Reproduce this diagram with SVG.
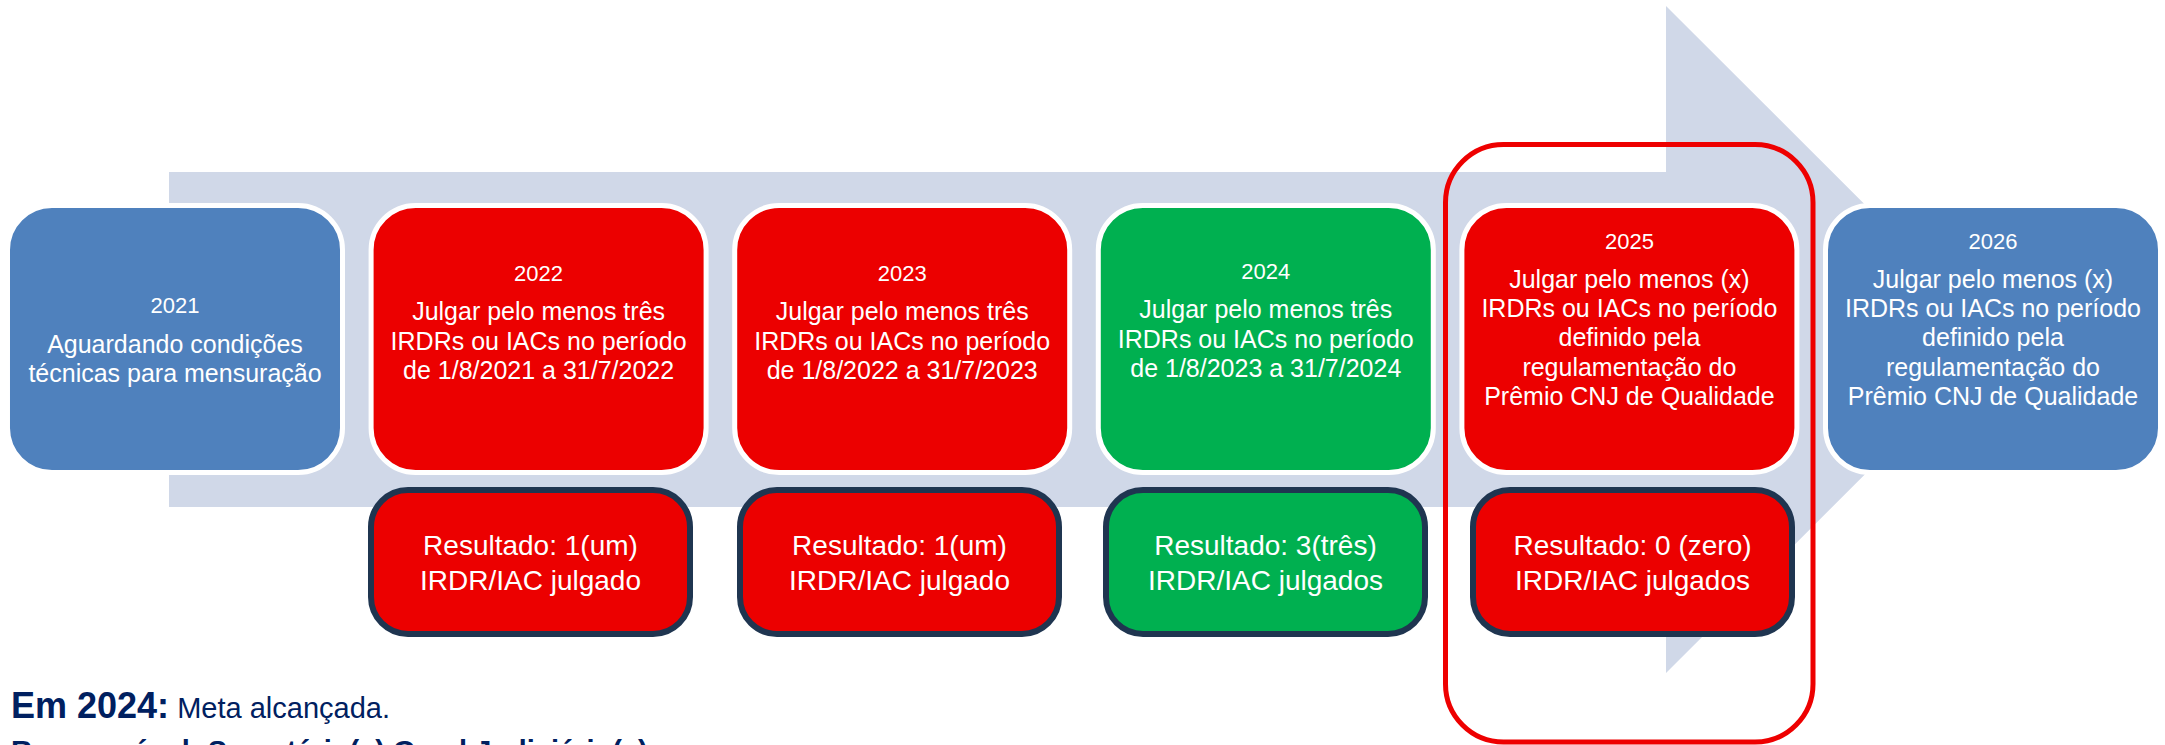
<svg xmlns="http://www.w3.org/2000/svg" width="2165" height="745" viewBox="0 0 2165 745">
<defs>
<style>
.box{stroke:#FFFFFF;stroke-width:5}
.blue{fill:#4F81BD}
.red{fill:#EC0000}
.green{fill:#00B050}
.res{stroke:#1F3550;stroke-width:6}
.yr{font-family:"Liberation Sans",Arial,sans-serif;font-size:22px;fill:#FFFFFF;text-anchor:middle}
.tx{font-family:"Liberation Sans",Arial,sans-serif;font-size:25px;fill:#FFFFFF;text-anchor:middle}
.rt{font-family:"Liberation Sans",Arial,sans-serif;font-size:28px;fill:#FFFFFF;text-anchor:middle}
.lg{font-family:"Liberation Sans",Arial,sans-serif;fill:#002060}
</style>
</defs>
<rect width="2165" height="745" fill="#FFFFFF"/>
<g id="connectors">
<path id="arrow" d="M169,172 H1666 V6 L2000,339.5 L1666,673 V507 H169 Z" fill="#D0D8E8"/>
</g>
<g id="n2021">
<rect class="box blue" x="7.5" y="205.5" width="335" height="267" rx="44.5"/>
<text class="yr" x="175" y="313">2021</text>
<text class="tx" x="175" y="353">Aguardando condições</text>
<text class="tx" x="175" y="382">técnicas para mensuração</text>
</g>
<g id="n2022">
<rect class="box red" x="371.1" y="205.5" width="335" height="267" rx="44.5"/>
<text class="yr" x="538.6" y="281">2022</text>
<text class="tx" x="538.6" y="320">Julgar pelo menos três</text>
<text class="tx" x="538.6" y="350">IRDRs ou IACs no período</text>
<text class="tx" x="538.6" y="379">de 1/8/2021 a 31/7/2022</text>
</g>
<g id="n2023">
<rect class="box red" x="734.7" y="205.5" width="335" height="267" rx="44.5"/>
<text class="yr" x="902.2" y="281">2023</text>
<text class="tx" x="902.2" y="320">Julgar pelo menos três</text>
<text class="tx" x="902.2" y="350">IRDRs ou IACs no período</text>
<text class="tx" x="902.2" y="379">de 1/8/2022 a 31/7/2023</text>
</g>
<g id="n2024">
<rect class="box green" x="1098.3" y="205.5" width="335" height="267" rx="44.5"/>
<text class="yr" x="1265.8" y="279">2024</text>
<text class="tx" x="1265.8" y="318">Julgar pelo menos três</text>
<text class="tx" x="1265.8" y="348">IRDRs ou IACs no período</text>
<text class="tx" x="1265.8" y="377">de 1/8/2023 a 31/7/2024</text>
</g>
<g id="n2025">
<rect class="box red" x="1461.9" y="205.5" width="335" height="267" rx="44.5"/>
<text class="yr" x="1629.4" y="249">2025</text>
<text class="tx" x="1629.4" y="288">Julgar pelo menos (x)</text>
<text class="tx" x="1629.4" y="317">IRDRs ou IACs no período</text>
<text class="tx" x="1629.4" y="346">definido pela</text>
<text class="tx" x="1629.4" y="376">regulamentação do</text>
<text class="tx" x="1629.4" y="405">Prêmio CNJ de Qualidade</text>
</g>
<g id="n2026">
<rect class="box blue" x="1825.5" y="205.5" width="335" height="267" rx="44.5"/>
<text class="yr" x="1993" y="249">2026</text>
<text class="tx" x="1993" y="288">Julgar pelo menos (x)</text>
<text class="tx" x="1993" y="317">IRDRs ou IACs no período</text>
<text class="tx" x="1993" y="346">definido pela</text>
<text class="tx" x="1993" y="376">regulamentação do</text>
<text class="tx" x="1993" y="405">Prêmio CNJ de Qualidade</text>
</g>
<g id="r2022">
<rect class="res red" x="371" y="490" width="319" height="144" rx="37"/>
<text class="rt" x="530.5" y="555">Resultado: 1(um)</text>
<text class="rt" x="530.5" y="590">IRDR/IAC julgado</text>
</g>
<g id="r2023">
<rect class="res red" x="740" y="490" width="319" height="144" rx="37"/>
<text class="rt" x="899.5" y="555">Resultado: 1(um)</text>
<text class="rt" x="899.5" y="590">IRDR/IAC julgado</text>
</g>
<g id="r2024">
<rect class="res green" x="1106" y="490" width="319" height="144" rx="37"/>
<text class="rt" x="1265.5" y="555">Resultado: 3(três)</text>
<text class="rt" x="1265.5" y="590">IRDR/IAC julgados</text>
</g>
<g id="r2025">
<rect class="res red" x="1473" y="490" width="319" height="144" rx="37"/>
<text class="rt" x="1632.5" y="555">Resultado: 0 (zero)</text>
<text class="rt" x="1632.5" y="590">IRDR/IAC julgados</text>
</g>
<g id="highlight">
<rect x="1445.5" y="144.5" width="367.5" height="597.5" rx="58" fill="none" stroke="#EE0000" stroke-width="5"/>
</g>
<g id="legend">
<text class="lg" x="11" y="718"><tspan font-weight="bold" font-size="36">Em 2024:</tspan><tspan font-size="29"> Meta alcançada.</tspan></text>
<text class="lg" x="11" y="761" font-weight="bold" font-size="29">Responsável: Secretário(a) Geral Judiciário(a)a</text>
</g>
</svg>
